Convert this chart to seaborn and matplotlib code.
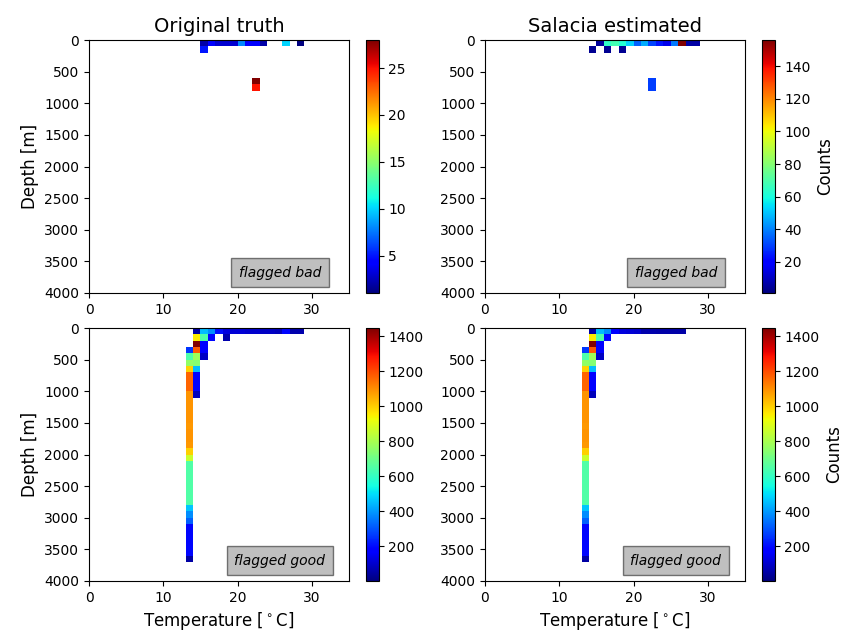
import numpy as np
import pandas as pd
import matplotlib
matplotlib.use('Agg')
import matplotlib.pyplot as plt
import seaborn as sns

plt.rcParams['font.family'] = ['DejaVu Sans']
plt.rcParams['xtick.labelsize'] = 10
plt.rcParams['ytick.labelsize'] = 10

# bins: 1 degC by 100 m
t_edges = np.arange(0, 36, 1)
z_edges = np.arange(0, 4100, 100)

# each cell = (bin start temperature, bin start depth, counts)
# flagged bad, original truth
truth_bad_t = [15, 16, 17, 18, 19, 20, 21, 22, 23, 26, 28, 15, 22, 22]
truth_bad_z = [0, 0, 0, 0, 0, 0, 0, 0, 0, 0, 0, 100, 600, 700]
truth_bad_n = [2, 4, 3, 3, 3, 8, 4, 4, 2, 10, 1, 5, 28, 25]

# flagged bad, Salacia estimated
est_bad_t = [15, 16, 17, 18, 19, 20, 21, 22, 23, 24, 25, 26, 27, 28, 14, 16, 18, 22, 22]
est_bad_z = [0, 0, 0, 0, 0, 0, 0, 0, 0, 0, 0, 0, 0, 0, 100, 100, 100, 600, 700]
est_bad_n = [5, 64, 68, 62, 52, 35, 47, 31, 24, 16, 39, 156, 6, 6, 4, 4, 4, 30, 30]

# flagged good, surface rows (0-200 m)
truth_good_t = [14, 15, 16, 17, 18, 19, 20, 21, 22, 23, 24, 25, 26, 27, 28, 14, 15, 16, 18]
truth_good_z = [0] * 15 + [100, 100, 100, 100]
truth_good_n = [50, 450, 380, 200, 120, 110, 110, 100, 100, 90, 90, 80, 190, 60, 60,
                950, 640, 190, 60]

est_good_t = [14, 15, 16, 17, 18, 19, 20, 21, 22, 23, 24, 25, 26, 14, 15, 16]
est_good_z = [0] * 13 + [100, 100, 100]
est_good_n = [50, 450, 380, 160, 120, 110, 100, 60, 60, 55, 55, 55, 55, 950, 640, 190]

# flagged good, the deep column below 200 m (same in both panels)
deep_t = [14, 15,
          13, 14, 15,
          13, 14, 15,
          13, 14,
          13, 14,
          13, 14,
          13, 14,
          13, 14,
          13, 14,
          13, 13, 13, 13, 13, 13, 13, 13,
          13, 13,
          13, 13, 13, 13, 13, 13, 13,
          13, 13, 13,
          13, 13, 13, 13, 13,
          13]
deep_z = [200, 200,
          300, 300, 300,
          400, 400, 400,
          500, 500,
          600, 600,
          700, 700,
          800, 800,
          900, 900,
          1000, 1000,
          1100, 1200, 1300, 1400, 1500, 1600, 1700, 1800,
          1900, 2000,
          2100, 2200, 2300, 2400, 2500, 2600, 2700,
          2800, 2900, 3000,
          3100, 3200, 3300, 3400, 3500,
          3600]
deep_n = [1446, 180,
          260, 1180, 170,
          640, 780, 90,
          760, 740,
          990, 450,
          1160, 170,
          1160, 170,
          1160, 160,
          1085, 80,
          1085, 1085, 1090, 1085, 1080, 1085, 1085, 1080,
          1000, 860,
          650, 650, 650, 650, 650, 650, 650,
          460, 380, 320,
          190, 190, 190, 190, 190,
          50]


def cells(t, z, n):
    return pd.DataFrame({'temp': np.array(t) + 0.5,
                         'depth': np.array(z) + 50,
                         'count': n})


panels = [
    cells(truth_bad_t, truth_bad_z, truth_bad_n),
    cells(est_bad_t, est_bad_z, est_bad_n),
    cells(truth_good_t + deep_t, truth_good_z + deep_z, truth_good_n + deep_n),
    cells(est_good_t + deep_t, est_good_z + deep_z, est_good_n + deep_n),
]
flags = ['flagged bad', 'flagged bad', 'flagged good', 'flagged good']
jet = matplotlib.colormaps['jet']

fig = plt.figure(figsize=(8.49, 6.35), dpi=100)
W, H = 849, 635
ax_left = [89, 485]
ax_top = [40, 328]
cb_left = [366, 762]

for i, df in enumerate(panels):
    row, col = divmod(i, 2)
    x0, y0 = ax_left[col], ax_top[row]
    ax = fig.add_axes([x0 / W, 1 - (y0 + 253) / H, 260 / W, 253 / H])
    cax = fig.add_axes([cb_left[col] / W, 1 - (y0 + 253) / H, 12.5 / W, 253 / H])
    sns.histplot(data=df, x='temp', y='depth', weights='count',
                 bins=(t_edges, z_edges), cmap=jet, vmin=1,
                 cbar=True, cbar_ax=cax, ax=ax)
    ax.set_xlim(0, 35)
    ax.set_ylim(4000, 0)
    ax.set_xticks([0, 10, 20, 30])
    ax.set_yticks(np.arange(0, 4001, 500))
    ax.set_xlabel('Temperature [$^\\circ$C]' if row == 1 else '', fontsize=12)
    ax.set_ylabel('Depth [m]' if col == 0 else '', fontsize=12)
    if col == 1:
        cax.set_ylabel('Counts', fontsize=12)
    if row == 0:
        ax.set_title(['Original truth', 'Salacia estimated'][col], fontsize=14)
    ax.text(0.734, 0.081, flags[i], transform=ax.transAxes, ha='center', va='center',
            style='italic', fontsize=10,
            bbox=dict(facecolor='gray', alpha=0.5, pad=5.5))

fig.savefig('out.png', dpi=100)
